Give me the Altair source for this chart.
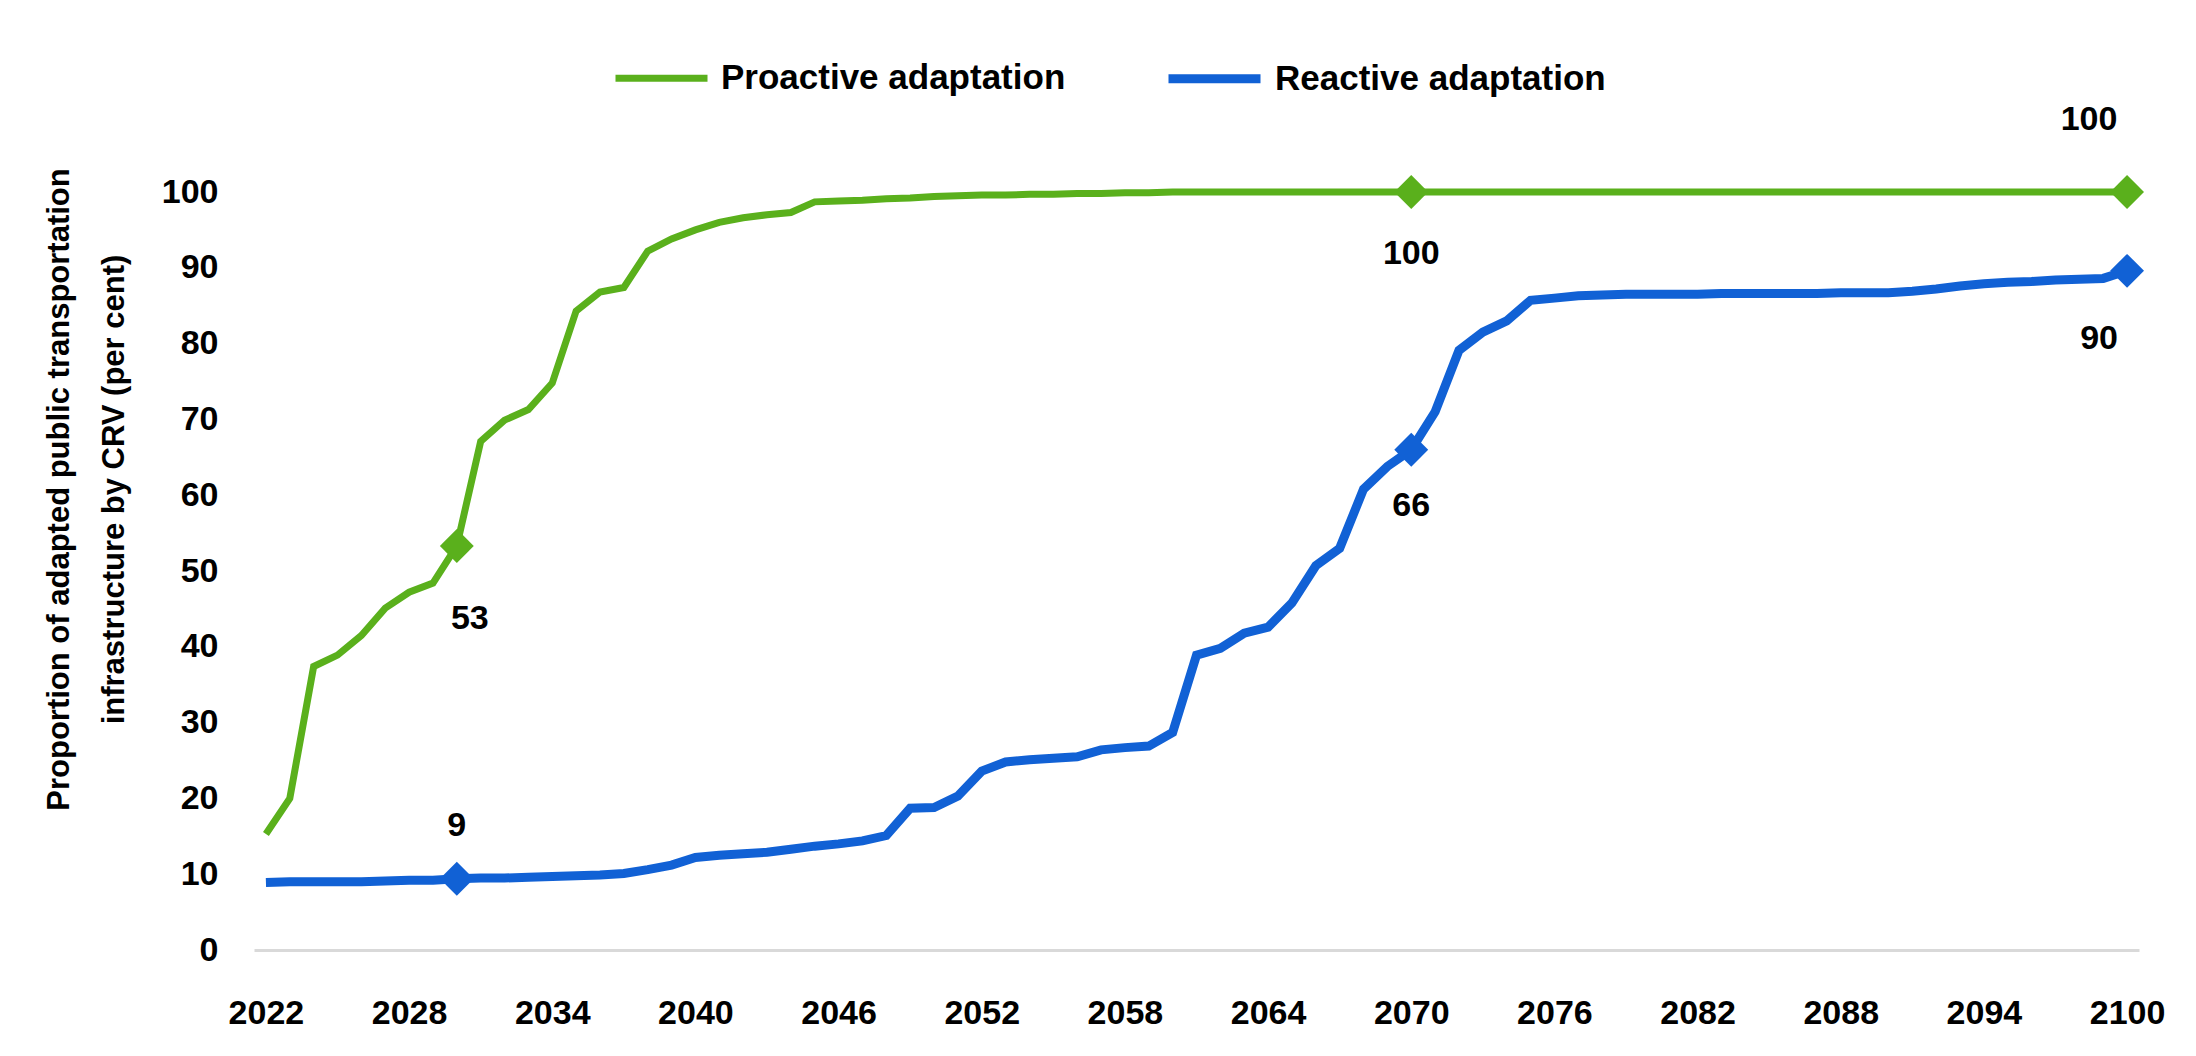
import altair as alt
import pandas as pd

years = list(range(2022, 2101))

proactive = [
    15.3, 20.0, 37.4, 38.9, 41.5, 45.1, 47.2, 48.4, 53.3, 67.1,
    69.9, 71.3, 74.8, 84.3, 86.8, 87.4, 92.2, 93.8, 95.0, 96.0,
    96.6, 97.0, 97.3, 98.7, 98.8, 98.9, 99.1, 99.2, 99.4, 99.5,
    99.6, 99.6, 99.7, 99.7, 99.8, 99.8, 99.9, 99.9,
] + [100.0] * 41

reactive = [
    8.9, 9.0, 9.0, 9.0, 9.0, 9.1, 9.2, 9.2, 9.4, 9.5,
    9.5, 9.6, 9.7, 9.8, 9.9, 10.1, 10.6, 11.2, 12.2, 12.5,
    12.7, 12.9, 13.3, 13.7, 14.0, 14.4, 15.1, 18.7, 18.8, 20.3,
    23.6, 24.8, 25.1, 25.3, 25.5, 26.4, 26.7, 26.9, 28.7, 38.9,
    39.8, 41.8, 42.6, 45.8, 50.7, 53.0, 60.8, 63.8, 66.0, 71.0,
    79.1, 81.5, 83.0, 85.7, 86.0, 86.3, 86.4, 86.5, 86.5, 86.5,
    86.5, 86.6, 86.6, 86.6, 86.6, 86.6, 86.7, 86.7, 86.7, 86.9,
    87.2, 87.6, 87.9, 88.1, 88.2, 88.4, 88.5, 88.6, 89.6,
]

series_names = ["Proactive adaptation", "Reactive adaptation"]
series_colors = ["#5AB01C", "#1161D5"]
marker_years = [2030, 2070, 2100]
x_ticks = list(range(2022, 2101, 6))
y_ticks = list(range(0, 101, 10))
y_title = ["Proportion of adapted public transportation",
           "infrastructure by CRV (per cent)"]

assert len(proactive) == len(years) and len(reactive) == len(years)

rows = []
for name, vals in zip(series_names, [proactive, reactive]):
    for yr, v in zip(years, vals):
        rows.append({"series": name, "year": yr, "value": v})
df = pd.DataFrame(rows)

FONT = "Liberation Sans, Arial, sans-serif"

x_enc = alt.X("year:Q",
              scale=alt.Scale(domain=[2021.5, 2100.5], nice=False, zero=False),
              axis=alt.Axis(values=x_ticks, format="d", title=None, grid=False,
                            ticks=False, domainColor="#D9D9D9", domainWidth=3,
                            labelFont=FONT, labelFontSize=34, labelFontWeight="bold",
                            labelColor="black", labelPadding=46, labelFlush=False))
y_enc = alt.Y("value:Q",
              scale=alt.Scale(domain=[0, 100], nice=False),
              axis=alt.Axis(values=y_ticks, title=y_title, grid=False, ticks=False,
                            domain=False, labelFont=FONT, labelFontSize=34,
                            labelFontWeight="bold", labelColor="black",
                            labelPadding=36,
                            titleFont=FONT, titleFontSize=31, titleFontWeight="bold",
                            titleColor="black", titleX=-195, titleY=297,
                            titleAngle=-90, titleAlign="center",
                            titleBaseline="middle", titleLineHeight=55))

color_scale = alt.Scale(domain=series_names, range=series_colors)

base = alt.Chart(df)

lines = base.mark_line(strokeJoin="miter").encode(
    x=x_enc,
    y=y_enc,
    color=alt.Color("series:N", scale=color_scale,
                    legend=alt.Legend(orient="none", legendX=358, legendY=-164,
                                      direction="horizontal", title=None,
                                      symbolType="stroke", symbolSize=8464,
                                      symbolStrokeWidth=9, labelFont=FONT,
                                      labelFontSize=35, labelFontWeight="bold",
                                      labelColor="black", labelOffset=10,
                                      columnPadding=84, padding=0,
                                      labelLimit=1000)),
    strokeWidth=alt.StrokeWidth("series:N",
                                scale=alt.Scale(domain=series_names, range=[7, 9]),
                                legend=None),
)

markers = base.mark_point(shape="diamond", filled=True, size=1150, opacity=1).encode(
    x="year:Q", y="value:Q",
    color=alt.Color("series:N", scale=color_scale, legend=None),
).transform_filter(alt.FieldOneOfPredicate(field="year", oneOf=marker_years))

label_offsets = {
    ("Proactive adaptation", 2030): (13, 73),
    ("Reactive adaptation", 2030): (0, -53),
    ("Proactive adaptation", 2070): (0, 62),
    ("Reactive adaptation", 2070): (0, 56),
    ("Proactive adaptation", 2100): (-38, -72),
    ("Reactive adaptation", 2100): (-28, 68),
}

label_layers = []
for (name, yr), (dx, dy) in label_offsets.items():
    label_layers.append(
        base.mark_text(dx=dx, dy=dy, font=FONT, fontSize=34, fontWeight="bold",
                       color="black").encode(
            x="year:Q", y="value:Q",
            text=alt.Text("value:Q", format=".0f"),
        ).transform_filter(
            (alt.datum.series == name) & (alt.datum.year == yr)
        )
    )

chart = alt.layer(lines, markers, *label_layers).properties(
    width=1885, height=758,
    autosize=alt.AutoSizeParams(type="none"),
    padding={"left": 246, "top": 184, "right": 49, "bottom": 98},
    background="white",
).configure_view(stroke=None)

chart.save("out.html", embed_options={"renderer": "svg", "actions": False})
